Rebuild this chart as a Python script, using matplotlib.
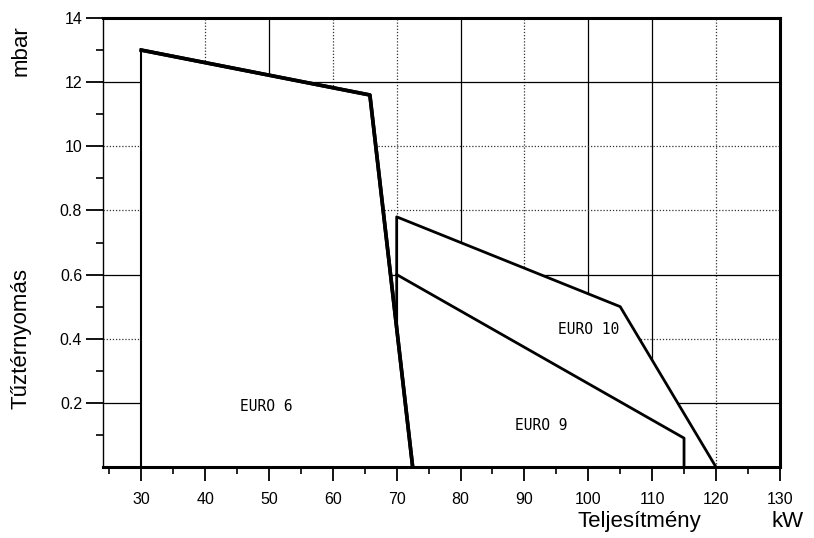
import matplotlib.pyplot as plt
import numpy as np

# adatok
euro6_x = [30, 30, 65.8, 72.5]
euro6_y = [0, 1.30, 1.16, 0]
euro10_x = [70, 70, 105, 120]
euro10_y = [0, 0.78, 0.50, 0]
euro9_x = [70, 115, 115]
euro9_y = [0.60, 0.09, 0]
x_ticks = [30, 40, 50, 60, 70, 80, 90, 100, 110, 120, 130]
y_ticks = [0.2, 0.4, 0.6, 0.8, 1.0, 1.2, 1.4]
y_labels = ['0.2', '0.4', '0.6', '0.8', '10', '12', '14']
grid_v_solid = [50, 80, 100, 110]
grid_v_dot = [40, 60, 70, 90, 120]
grid_h_solid = [0.2, 0.6, 1.2]
grid_h_dot = [0.4, 0.8, 1.0]

plt.rcParams['font.family'] = ['Liberation Sans', 'DejaVu Sans']
fig = plt.figure(figsize=(8.14, 5.38), dpi=100)
ax = fig.add_axes([0.1265, 0.132, 0.8315, 0.8345])
ax.set_xlim(24, 130)
ax.set_ylim(0, 1.4)

# rács
for v in grid_v_solid:
    ax.axvline(v, color='k', lw=0.9, zorder=1)
for v in grid_v_dot:
    ax.axvline(v, color='#333333', lw=0.9, ls=(0, (1, 1.5)), zorder=1)
for h in grid_h_solid:
    ax.axhline(h, color='k', lw=0.9, zorder=1)
for h in grid_h_dot:
    ax.axhline(h, color='#333333', lw=0.9, ls=(0, (1, 1.5)), zorder=1)

# EURO 6
ax.fill(euro6_x, euro6_y, color='white', zorder=2)
ax.plot(euro6_x[:2], euro6_y[:2], color='k', lw=1.5, zorder=3)
ax.plot(euro6_x[1:], euro6_y[1:], color='k', lw=2.6, zorder=3)

# a 70 kW-os függőleges él ott ér véget, ahol a EURO 6 jobb szélét metszi
t = (euro10_x[0] - euro6_x[2]) / (euro6_x[3] - euro6_x[2])
y_cut = euro6_y[2] + t * (euro6_y[3] - euro6_y[2])

# EURO 9 / EURO 10
ax.fill(euro10_x, euro10_y, color='white', zorder=2)
ax.plot([euro10_x[0]] + euro10_x[1:], [y_cut] + euro10_y[1:], color='k', lw=2, zorder=3)
ax.plot(euro9_x, euro9_y, color='k', lw=2, zorder=3)
ax.plot(euro6_x[1:], euro6_y[1:], color='k', lw=2.6, zorder=3)

ax.text(49.5, 0.19, 'EURO 6', family='DejaVu Sans Mono', fontsize=10.5, ha='center', va='center', zorder=4)
ax.text(92.6, 0.13, 'EURO 9', family='DejaVu Sans Mono', fontsize=10.5, ha='center', va='center', zorder=4)
ax.text(100, 0.43, 'EURO 10', family='DejaVu Sans Mono', fontsize=10.5, ha='center', va='center', zorder=4)

# tengelyek
for s in ['top', 'right', 'bottom']:
    ax.spines[s].set_linewidth(2.2)
ax.spines['left'].set_linewidth(1.0)
ax.spines['left'].set_linestyle((0, (1, 1)))
ax.set_xticks(x_ticks)
ax.set_xticks(np.arange(25, 130, 10), minor=True)
ax.set_yticks(y_ticks)
ax.set_yticklabels(y_labels)
ax.set_yticks(np.arange(0.1, 1.4, 0.2), minor=True)
ax.tick_params(axis='both', which='major', direction='out', length=10, width=1.3, labelsize=11.5, pad=8)
ax.tick_params(axis='both', which='minor', direction='out', length=5, width=1.2)
ax.tick_params(axis='y', which='major', length=12, pad=3)

fig.text(0.026, 0.905, 'mbar', rotation=90, fontsize=16, ha='center', va='center')
fig.text(0.026, 0.37, 'Tűztérnyomás', rotation=90, fontsize=16, ha='center', va='center')
fig.text(0.785, 0.03, 'Teljesítmény', fontsize=16, ha='center', va='center')
fig.text(0.968, 0.03, 'kW', fontsize=16, ha='center', va='center')

plt.savefig('out.png', dpi=100)
